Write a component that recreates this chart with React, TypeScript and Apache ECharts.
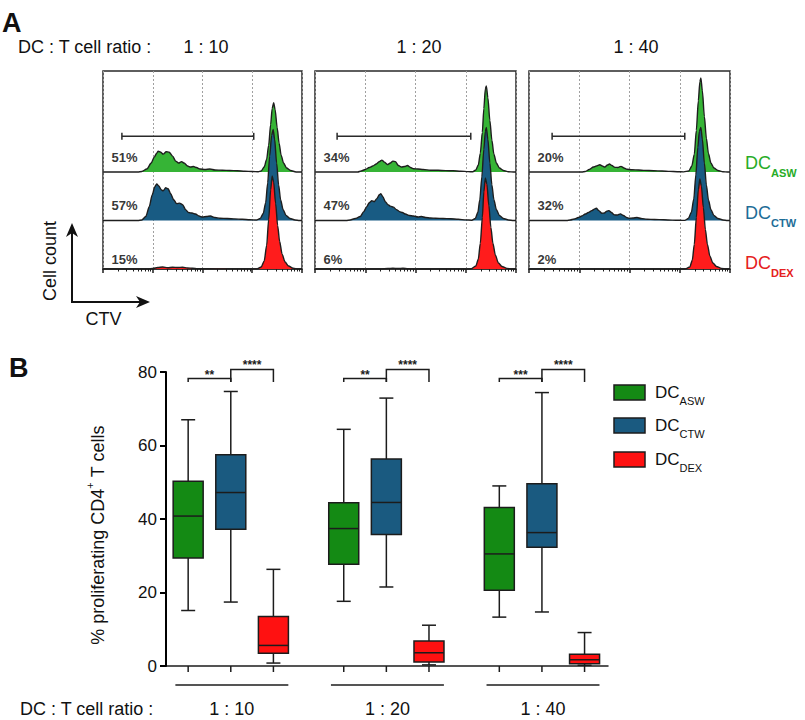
import React, { useEffect, useRef } from 'react';
import * as echarts from 'echarts';

const FONT = '"Liberation Sans", Arial, Helvetica, sans-serif';

// ---------- shared categories ----------
const ratioLabels = ['1 : 10', '1 : 20', '1 : 40'];
const conditionNames = ['ASW', 'CTW', 'DEX'];

// ---------- Panel A : % proliferated cells inside gate ----------
const pctASW = [51, 34, 20];
const pctCTW = [57, 47, 32];
const pctDEX = [15, 6, 2];

// gate limits (log10 CTV)
const gateStart = [0.38, 0.44, 0.46];
const gateEnd = [3.03, 3.1, 3.1];

// CTV histograms: [log10 CTV, cell count]
const histASW_10 = [[0,0],[0.7,0],[0.78,0.5],[0.88,3],[0.97,9],[1.03,15],[1.08,19],[1.11,21],[1.16,20],[1.21,18],[1.27,20.5],[1.33,20],[1.4,16],[1.46,11],[1.52,9],[1.58,10.5],[1.63,9],[1.7,6],[1.76,5],[1.82,5.5],[1.88,4.5],[1.95,3],[2.05,2.5],[2.15,3],[2.25,2],[2.4,1.8],[2.55,1.5],[2.7,1.2],[2.85,0.8],[3.0,0.5],[3.12,0.3],[3.18,1],[3.24,5],[3.29,13],[3.33,27],[3.37,48],[3.4,64],[3.43,70],[3.46,63],[3.5,45],[3.54,29],[3.58,17],[3.63,9],[3.69,4],[3.77,1.5],[3.88,0],[4,0]];
const histCTW_10 = [[0,0],[0.7,0],[0.78,0.5],[0.86,4],[0.93,14],[0.99,26],[1.04,34],[1.08,37],[1.12,35],[1.17,31],[1.21,30],[1.26,33],[1.31,32],[1.36,27],[1.42,21],[1.48,17],[1.54,17.5],[1.6,16],[1.66,11],[1.72,8],[1.79,7.5],[1.86,6.5],[1.93,4.5],[2.0,3.5],[2.08,4],[2.16,4.5],[2.25,3],[2.35,2.2],[2.5,2],[2.65,1.6],[2.8,1.2],[2.95,0.8],[3.08,0.5],[3.16,2],[3.22,7],[3.27,18],[3.31,38],[3.35,65],[3.39,86],[3.42,92],[3.45,82],[3.49,58],[3.53,36],[3.57,21],[3.62,11],[3.68,5],[3.76,2],[3.86,0.5],[3.95,0],[4,0]];
const histDEX_10 = [[0,0],[0.9,0],[1.0,0.5],[1.1,1.5],[1.2,2],[1.3,1.2],[1.4,1.8],[1.5,1.5],[1.6,1.8],[1.7,1],[1.8,0.8],[1.9,0.4],[2.1,0.2],[2.5,0.1],[3.1,0.1],[3.18,2],[3.24,8],[3.29,24],[3.33,50],[3.37,80],[3.4,94],[3.43,88],[3.47,66],[3.51,44],[3.55,28],[3.6,15],[3.66,7],[3.73,3],[3.82,0.8],[3.92,0],[4,0]];

const histASW_20 = [[0,0],[0.85,0],[0.92,1],[1.0,2.5],[1.08,4.5],[1.15,6],[1.22,8],[1.28,10.5],[1.33,12],[1.38,10],[1.44,7.5],[1.5,9],[1.55,11],[1.6,10.5],[1.66,6.5],[1.72,5],[1.78,5.5],[1.84,6.5],[1.9,4.5],[1.96,3.3],[2.05,3],[2.15,2.5],[2.3,1.8],[2.45,1.7],[2.6,1.4],[2.75,1.2],[2.9,0.8],[3.05,0.4],[3.14,0.2],[3.2,2],[3.25,7],[3.29,19],[3.33,40],[3.36,64],[3.39,84],[3.41,87],[3.44,75],[3.48,52],[3.52,32],[3.56,18],[3.61,9],[3.67,4],[3.75,1.5],[3.85,0.3],[3.95,0],[4,0]];
const histCTW_20 = [[0,0],[0.62,0],[0.7,0.5],[0.8,2],[0.9,4],[0.97,9],[1.03,14],[1.08,18],[1.13,20],[1.18,19],[1.23,22],[1.28,26],[1.31,27],[1.35,24],[1.4,19],[1.45,16],[1.5,14.5],[1.56,13.5],[1.62,11],[1.68,9],[1.74,8],[1.8,6.5],[1.88,5],[1.96,4.5],[2.05,3.5],[2.12,4],[2.2,3],[2.3,2.5],[2.4,2.3],[2.55,2],[2.7,1.7],[2.85,1.2],[3.0,0.6],[3.12,0.3],[3.19,2],[3.24,8],[3.28,21],[3.32,44],[3.36,72],[3.39,90],[3.41,94],[3.44,82],[3.48,58],[3.52,36],[3.56,21],[3.61,11],[3.67,5],[3.75,2],[3.85,0.5],[3.95,0],[4,0]];
const histDEX_20 = [[0,0],[1.3,0],[1.45,0.5],[1.55,0.8],[1.65,0.5],[1.75,0.7],[1.85,0.3],[2.0,0],[3.1,0],[3.2,3],[3.25,10],[3.29,26],[3.33,52],[3.36,78],[3.39,92],[3.42,86],[3.46,64],[3.5,42],[3.54,26],[3.59,14],[3.65,6],[3.72,2.5],[3.82,0.6],[3.92,0],[4,0]];

const histASW_40 = [[0,0],[1.05,0],[1.12,0.5],[1.2,2.5],[1.28,5],[1.34,6],[1.41,7.3],[1.46,6],[1.51,5],[1.56,7],[1.6,8],[1.65,6.5],[1.71,4.7],[1.77,4.5],[1.83,5.7],[1.89,4],[1.95,2.7],[2.05,2.3],[2.18,2],[2.3,1.6],[2.48,1.3],[2.65,1],[2.8,0.6],[2.95,0.3],[3.08,0.1],[3.18,1],[3.24,6],[3.29,18],[3.33,42],[3.37,72],[3.4,91],[3.42,95],[3.45,82],[3.49,56],[3.53,34],[3.57,19],[3.62,9],[3.68,4],[3.76,1.5],[3.86,0.3],[3.95,0],[4,0]];
const histCTW_40 = [[0,0],[0.75,0],[0.82,0.5],[0.9,1.5],[0.98,3],[1.05,4.5],[1.12,6.5],[1.18,8],[1.25,10],[1.3,11.5],[1.34,12.3],[1.39,10],[1.45,7.3],[1.5,7.5],[1.55,9.5],[1.59,10],[1.64,8],[1.7,5.7],[1.76,5.5],[1.82,6.7],[1.88,5],[1.94,3],[1.99,2.3],[2.07,2.5],[2.15,3],[2.23,2],[2.35,1.3],[2.5,1],[2.68,0.7],[2.85,0.4],[3.0,0.2],[3.1,0.1],[3.17,2],[3.23,8],[3.28,22],[3.32,46],[3.36,74],[3.39,90],[3.42,94],[3.45,82],[3.49,58],[3.53,36],[3.57,21],[3.62,11],[3.68,5],[3.76,2],[3.86,0.5],[3.95,0],[4,0]];
const histDEX_40 = [[0,0],[3.1,0],[3.2,2],[3.25,9],[3.29,25],[3.33,52],[3.37,80],[3.4,91],[3.43,84],[3.47,62],[3.51,40],[3.55,25],[3.6,13],[3.66,6],[3.73,2.5],[3.83,0.6],[3.93,0],[4,0]];

// ---------- Panel B : box plots [min, Q1, median, Q3, max] per ratio ----------
const statsASW = [[15.1, 29.4, 40.8, 50.3, 67.0], [17.6, 27.7, 37.4, 44.4, 64.4], [13.3, 20.6, 30.5, 43.1, 49.0]];
const statsCTW = [[17.4, 37.2, 47.2, 57.5, 74.7], [21.5, 35.8, 44.5, 56.3, 72.9], [14.7, 32.3, 36.3, 49.6, 74.4]];
const statsDEX = [[0.8, 3.5, 5.6, 13.5, 26.3], [0.3, 1.1, 3.6, 6.8, 11.1], [0.2, 0.6, 1.7, 3.2, 9.1]];

const yTicksB = [0, 20, 40, 60, 80];

// significance brackets
const sigGroup = [0, 0, 1, 1, 2, 2];
const sigFrom = [0, 1, 0, 1, 0, 1];
const sigTo = [1, 2, 1, 2, 1, 2];
const sigLevel = [78.2, 80.7, 78.2, 80.7, 78.2, 80.7];
const sigText = ['**', '****', '**', '****', '***', '****'];
const SIG_END = 77.3;

// ---------- styles / layout ----------
const histColors = ['#36b436', '#185b83', '#ff1c1c'];
const boxColors = ['#148a14', '#1a5a80', '#ff1111'];
const legendAColors = ['#27ac27', '#1e6d97', '#e52020'];
const ROW_BASE = [98, 49, 0];
const PCT_OFFSET = [15, 15, 10];
const GATE_Y = 134;
const GROUP_STEP = 3.65;
const X_PAD = 0.52;
const BOX_HALF = 15;
const CAP_HALF = 7;
const INK = '#1c1c1c';

const histograms = [
  [histASW_10, histCTW_10, histDEX_10],
  [histASW_20, histCTW_20, histDEX_20],
  [histASW_40, histCTW_40, histDEX_40],
];
const pcts = [pctASW, pctCTW, pctDEX];
const statsAll = [statsASW, statsCTW, statsDEX];

const slotX = (g: number, m: number) => X_PAD + g * GROUP_STEP + m;

function buildOption(): any {
  const panelLefts = [103, 315, 529];
  const panelWidths = [199, 201, 201];
  const grid: any[] = panelLefts.map((l, i) => ({
    left: l, top: 71, width: panelWidths[i], height: 198,
    show: true, borderColor: '#2a2a2a', borderWidth: 1.5, backgroundColor: 'transparent',
    outerBoundsMode: 'none', containLabel: false,
  }));
  grid.push({ left: 166, top: 372, width: 442, height: 294, show: false, outerBoundsMode: 'none', containLabel: false });

  const xAxis: any[] = [0, 1, 2].map((i) => ({
    type: 'log', logBase: 10, gridIndex: i, min: 1, max: 10000,
    axisLine: { show: true, onZero: false, lineStyle: { color: '#2a2a2a', width: 1.5 } },
    axisTick: { show: true, length: 4, lineStyle: { color: INK, width: 1.5 } },
    minorTick: { show: true, splitNumber: 9, length: 2.5, lineStyle: { color: INK, width: 1 } },
    axisLabel: { show: false },
    splitLine: { show: true, lineStyle: { color: '#a0a0a0', type: [2, 2], width: 1 } },
    minorSplitLine: { show: false },
  }));
  xAxis.push({
    type: 'value', gridIndex: 3, min: 0, max: 10.37,
    axisLine: { show: true, onZero: false, lineStyle: { color: INK, width: 1.5 } },
    axisTick: { show: false }, axisLabel: { show: false }, splitLine: { show: false },
  });

  const yAxis: any[] = [0, 1, 2].map((i) => ({
    type: 'value', gridIndex: i, min: 0, max: 200, show: false,
  }));
  yAxis.push({
    type: 'value', gridIndex: 3, position: 'left', z: 10, min: yTicksB[0], max: yTicksB[yTicksB.length - 1], interval: 20,
    axisLine: { show: true, onZero: false, lineStyle: { color: '#000000', width: 2 } },
    axisTick: { show: true, length: 6, lineStyle: { color: '#000000', width: 2 } },
    axisLabel: { show: true, fontSize: 17, color: '#111', fontFamily: FONT, margin: 9 },
    splitLine: { show: false },
  });

  const series: any[] = [];
  // Panel A histograms
  histograms.forEach((panel, p) => {
    panel.forEach((hist, c) => {
      series.push({
        type: 'line', xAxisIndex: p, yAxisIndex: p, silent: true,
        data: hist.map(([d, h]) => [Math.pow(10, d), ROW_BASE[c] + h]),
        smooth: 0.25, smoothMonotone: 'x', symbol: 'none', showSymbol: false,
        lineStyle: { color: '#1e1e1e', width: 1.4 },
        areaStyle: { color: histColors[c], opacity: 1, origin: ROW_BASE[c] },
        z: 2 + c,
      });
    });
    // gate
    series.push({
      type: 'line', xAxisIndex: p, yAxisIndex: p, silent: true,
      data: [[Math.pow(10, gateStart[p]), GATE_Y], [Math.pow(10, gateEnd[p]), GATE_Y]],
      symbol: 'rect', symbolSize: [1.5, 7], showSymbol: true,
      itemStyle: { color: '#2a2a2a' }, lineStyle: { color: '#2a2a2a', width: 1.5 }, z: 6,
    });
    // percentages
    series.push({
      type: 'scatter', xAxisIndex: p, yAxisIndex: p, silent: true, symbolSize: 0,
      data: [0, 1, 2].map((c) => [Math.pow(10, 0.17), ROW_BASE[c] + PCT_OFFSET[c], pcts[c][p]]),
      label: {
        show: true, position: 'right', distance: 0,
        formatter: (pr: any) => pr.value[2] + '%',
        fontSize: 13, fontWeight: 'bold', color: '#000', fontFamily: FONT,
      },
      z: 7,
    });
  });

  // Panel B boxes
  statsAll.forEach((stats, ci) => {
    series.push({
      type: 'custom', name: conditionNames[ci], xAxisIndex: 3, yAxisIndex: 3, clip: false, silent: true,
      data: stats.map((s, gi) => [gi, ...s]),
      encode: { x: 0, y: [1, 2, 3, 4, 5] },
      renderItem: (params: any, api: any) => {
        const xc = slotX(api.value(0), ci);
        const c = (v: number) => api.coord([xc, v]);
        const pMin = c(api.value(1));
        const px = pMin[0];
        const yMin = pMin[1];
        const yQ1 = c(api.value(2))[1];
        const yMed = c(api.value(3))[1];
        const yQ3 = c(api.value(4))[1];
        const yMax = c(api.value(5))[1];
        const y0 = c(0)[1];
        const st = { stroke: INK, lineWidth: 1.5 };
        return {
          type: 'group',
          children: [
            { type: 'line', shape: { x1: px, y1: yMax, x2: px, y2: yQ3 }, style: st },
            { type: 'line', shape: { x1: px - CAP_HALF, y1: yMax, x2: px + CAP_HALF, y2: yMax }, style: st },
            { type: 'line', shape: { x1: px, y1: yQ1, x2: px, y2: yMin }, style: st },
            { type: 'line', shape: { x1: px - CAP_HALF, y1: yMin, x2: px + CAP_HALF, y2: yMin }, style: st },
            { type: 'rect', shape: { x: px - BOX_HALF, y: yQ3, width: BOX_HALF * 2, height: yQ1 - yQ3 }, style: { fill: boxColors[ci], stroke: INK, lineWidth: 1.5 } },
            { type: 'line', shape: { x1: px - BOX_HALF, y1: yMed, x2: px + BOX_HALF, y2: yMed }, style: st },
            { type: 'line', shape: { x1: px, y1: y0, x2: px, y2: y0 + 6 }, style: st },
          ],
        };
      },
      z: 3,
    });
  });

  // significance brackets
  series.push({
    type: 'custom', xAxisIndex: 3, yAxisIndex: 3, clip: false, silent: true,
    data: sigGroup.map((g, i) => [g, sigFrom[i], sigTo[i], sigLevel[i]]),
    encode: { x: 0, y: 3 },
    renderItem: (params: any, api: any) => {
      const g = api.value(0);
      const a = api.coord([slotX(g, api.value(1)), api.value(3)]);
      const b = api.coord([slotX(g, api.value(2)), api.value(3)]);
      const yEnd = api.coord([0, SIG_END])[1];
      return {
        type: 'group',
        children: [
          { type: 'polyline', shape: { points: [[a[0], yEnd], [a[0], a[1]], [b[0], b[1]], [b[0], yEnd]] }, style: { stroke: INK, lineWidth: 1.5, fill: 'none' } },
          { type: 'text', x: (a[0] + b[0]) / 2, y: a[1] + 2, style: { text: sigText[params.dataIndex], fontSize: 12, fontWeight: 'bold', fontFamily: FONT, fill: INK, align: 'center', verticalAlign: 'bottom' } },
        ],
      };
    },
    z: 4,
  });

  // group labels under x axis
  series.push({
    type: 'custom', xAxisIndex: 3, yAxisIndex: 3, clip: false, silent: true,
    data: ratioLabels.map((_, gi) => [gi, 0]),
    encode: { x: 0, y: 1 },
    renderItem: (params: any, api: any) => {
      const gi = api.value(0);
      const a = api.coord([slotX(gi, -0.3), 0]);
      const b = api.coord([slotX(gi, 2.35), 0]);
      return {
        type: 'group',
        children: [
          { type: 'line', shape: { x1: a[0], y1: a[1] + 19, x2: b[0], y2: a[1] + 19 }, style: { stroke: INK, lineWidth: 1.5 } },
          { type: 'text', x: (a[0] + b[0]) / 2, y: a[1] + 43, style: { text: ratioLabels[params.dataIndex], fontSize: 18, fontFamily: FONT, fill: '#111', align: 'center', verticalAlign: 'middle' } },
        ],
      };
    },
  });

  const txt = (x: number, y: number, text: string, extra: any = {}, el: any = {}) => ({
    type: 'text', x, y, silent: true, ...el,
    style: {
      text, fontSize: 18, fontFamily: FONT, fill: '#111',
      align: 'left', verticalAlign: 'middle', textAlign: 'left', textVerticalAlign: 'middle',
      ...extra,
    },
  });

  const topRatioX = [206, 419, 636];
  const legendAY = [163, 213, 263];
  const legendBY = [385, 418, 452];

  const graphic: any[] = [
    txt(2, 23, 'A', { fontSize: 27, fontWeight: 'bold' }),
    txt(18, 47, 'DC : T cell ratio :'),
    ...ratioLabels.map((r, i) => txt(topRatioX[i], 47, r, { align: 'center', textAlign: 'center' })),
    ...conditionNames.map((n, i) => txt(745, legendAY[i], `{dc|DC}{sub|${n}}`, {
      fill: legendAColors[i],
      rich: {
        dc: { fontSize: 18, fontFamily: FONT, fill: legendAColors[i], verticalAlign: 'middle' },
        sub: { fontSize: 11, fontWeight: 'bold', fontFamily: FONT, fill: legendAColors[i], verticalAlign: 'bottom', lineHeight: 30 },
      },
    })),
    txt(50, 261, 'Cell count', { align: 'center', textAlign: 'center' }, { rotation: Math.PI / 2 }),
    { type: 'line', silent: true, shape: { x1: 72, y1: 302, x2: 72, y2: 232 }, style: { stroke: '#111', lineWidth: 2 } },
    { type: 'line', silent: true, shape: { x1: 71, y1: 302, x2: 141, y2: 302 }, style: { stroke: '#111', lineWidth: 2 } },
    { type: 'polygon', silent: true, shape: { points: [[72, 223], [66, 237], [72, 233], [78, 237]] }, style: { fill: '#111' } },
    { type: 'polygon', silent: true, shape: { points: [[150, 302], [136, 296], [140, 302], [136, 308]] }, style: { fill: '#111' } },
    txt(103.5, 318.5, 'CTV', { align: 'center', textAlign: 'center' }),
    txt(9, 368, 'B', { fontSize: 27, fontWeight: 'bold' }),
    txt(98, 535, '{t|% proliferating CD4}{sup|+}{t| T cells}', {
      align: 'center', textAlign: 'center',
      rich: {
        t: { fontSize: 18, fontFamily: FONT, fill: '#111', verticalAlign: 'middle' },
        sup: { fontSize: 11, fontFamily: FONT, fill: '#111', verticalAlign: 'top', lineHeight: 27 },
      },
    }, { rotation: Math.PI / 2 }),
    ...conditionNames.map((n, i) => ({
      type: 'rect', silent: true, shape: { x: 614, y: legendBY[i], width: 31, height: 15 },
      style: { fill: boxColors[i], stroke: INK, lineWidth: 1.5 },
    })),
    ...conditionNames.map((n, i) => txt(655, legendBY[i] + 7.5, `{dc|DC}{sub|${n}}`, {
      rich: {
        dc: { fontSize: 17, fontFamily: FONT, fill: '#111', verticalAlign: 'middle' },
        sub: { fontSize: 11, fontFamily: FONT, fill: '#111', verticalAlign: 'bottom', lineHeight: 28 },
      },
    })),
    txt(20, 709, 'DC : T cell ratio :'),
  ];

  return {
    animation: false,
    backgroundColor: '#ffffff',
    textStyle: { fontFamily: FONT },
    grid, xAxis, yAxis, series, graphic,
  };
}

export default function App() {
  const ref = useRef<HTMLDivElement>(null);
  useEffect(() => {
    if (!ref.current) return;
    const chart = echarts.init(ref.current, null, { renderer: 'svg', width: 805, height: 720 });
    chart.setOption(buildOption());
    return () => chart.dispose();
  }, []);
  return (
    <div
      ref={ref}
      style={{ position: 'absolute', left: 0, top: 0, width: 805, height: 720, background: '#fff' }}
    />
  );
}
